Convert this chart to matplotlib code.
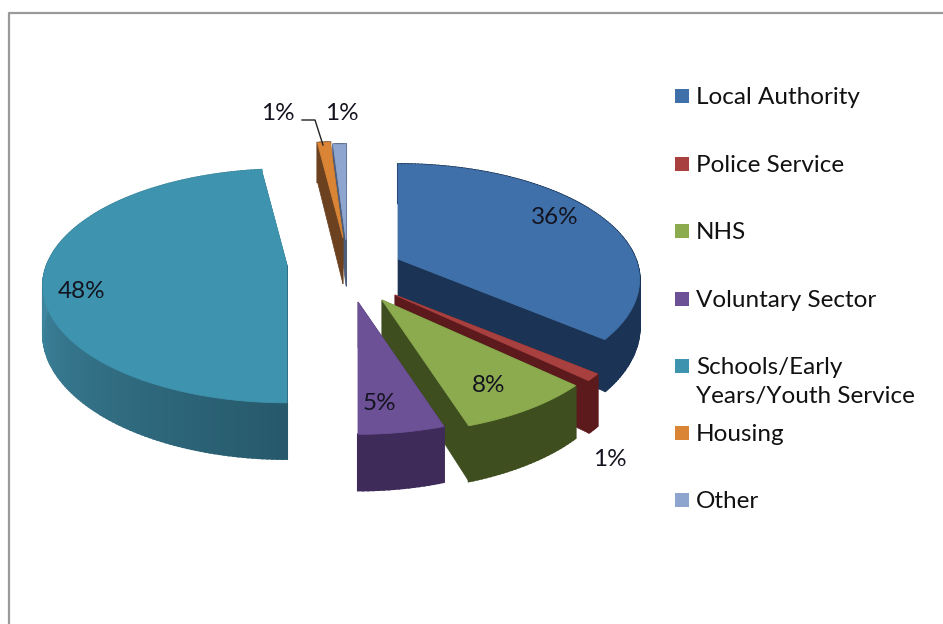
import numpy as np
import matplotlib
matplotlib.use("Agg")
import matplotlib.pyplot as plt
from matplotlib.patches import Polygon, Rectangle

plt.rcParams['font.family'] = ['Lato', 'DejaVu Sans']

# chart data
categories = ["Local Authority", "Police Service", "NHS", "Voluntary Sector",
              "Schools/Early\nYears/Youth Service", "Housing", "Other"]
values = [36, 1, 8, 5, 48, 1, 1]
pct_labels = ["36%", "1%", "8%", "5%", "48%", "1%", "1%"]

# colours: top face, dark side, lighter end of the rim
top_colors = ["#3f70aa", "#a8403f", "#8bab4e", "#6d5196", "#3e93ae", "#d98535", "#8ea5d0"]
side_colors = ["#1b3455", "#5c1a1c", "#3e4e1e", "#3e2b5a", "#27596b", "#6b4120", "#4d5d7c"]
rim_colors = ["#1b3455", "#5c1a1c", "#3e4e1e", "#3e2b5a", "#3f8aa3", "#6b4120", "#4d5d7c"]

# where each exploded slice has its tip, in pixels, and its size
apex_x = [398, 395, 382, 358, 287, 343, 346]
apex_y = [259, 295, 300, 302, 265, 238, 240]
slice_scale = [0.99, 0.97, 0.97, 0.96, 1.0, 1.0, 1.0]
label_x = [555, 610, 489, 379, 82, 278, 342]
label_y = [218, 460, 386, 404, 292, 113, 114]
legend_y = [98, 166, 233, 301, 368, 435, 502]

RX, RY, K, DEPTH = 240, 113, 0.18, 46


# perspective view of a point on the pie, angle clockwise from 12 o'clock
def project(t):
    s, c = np.sin(t), np.cos(t)
    w = 1 + K * c
    return RX * s / w, -RY * c / w, DEPTH / w


def mix(c1, c2, f):
    a = np.array(matplotlib.colors.to_rgb(c1))
    b = np.array(matplotlib.colors.to_rgb(c2))
    return a + (b - a) * f


fig = plt.figure(figsize=(9.43, 6.24), dpi=100)
ax = fig.add_axes([0, 0, 1, 1])
ax.set_xlim(0, 943)
ax.set_ylim(624, 0)
ax.axis("off")

# chart border, the right and bottom sides are cut off in the picture
ax.plot([9, 9, 943], [624, 13, 13], color="#9a9a9a", lw=1.6)

edges = np.cumsum([0] + values) / sum(values) * 2 * np.pi

# back slices first, purple goes last because it sits over the green
order = [6, 5, 4, 0, 1, 2, 3]
for i in order:
    a0, a1 = edges[i], edges[i + 1]
    cx, cy = apex_x[i], apex_y[i]
    ts = np.linspace(a0, a1, max(int((a1 - a0) * 60), 6))
    x, y, d = project(ts)
    x = x * slice_scale[i] + cx
    y = y * slice_scale[i] + cy

    # the two cut faces
    for j in [0, -1]:
        face = [(cx, cy), (x[j], y[j]), (x[j], y[j] + d[j]), (cx, cy + DEPTH)]
        ax.add_patch(Polygon(face, closed=True, fc=side_colors[i], ec=side_colors[i], lw=0.5))

    # rim in small pieces so that it can be shaded, all done by the side of the pie
    n = len(ts) - 1
    for j in range(n):
        f = min(1, j / (n * 0.55))
        col = mix(side_colors[i], rim_colors[i], f)
        seg = [(x[j], y[j]), (x[j + 1], y[j + 1]),
               (x[j + 1], y[j + 1] + d[j + 1]), (x[j], y[j] + d[j])]
        ax.add_patch(Polygon(seg, closed=True, fc=col, ec=col, lw=1.5))

    pts = [(cx, cy)] + list(zip(x, y))
    ax.add_patch(Polygon(pts, closed=True, fc=top_colors[i], ec=top_colors[i], lw=0.6))

# percent labels
for i in range(len(values)):
    ax.text(label_x[i], label_y[i], pct_labels[i], fontsize=17.5, color="#141420",
            ha="center", va="center")

# leader line of the Housing label
ax.plot([302, 315, 323], [120, 120, 145], color="#222222", lw=1)

# legend
for i, name in enumerate(categories):
    marker_y = legend_y[i] - 2 if i != 4 else legend_y[i] - 2
    ax.add_patch(Rectangle((675, marker_y - 7), 14, 14, fc=top_colors[i], ec="none"))
    ax.text(696, legend_y[i] - 11, name, fontsize=17.5, color="#111111", ha="left", va="top",
            linespacing=1.5)

fig.savefig("out.png", dpi=100)
